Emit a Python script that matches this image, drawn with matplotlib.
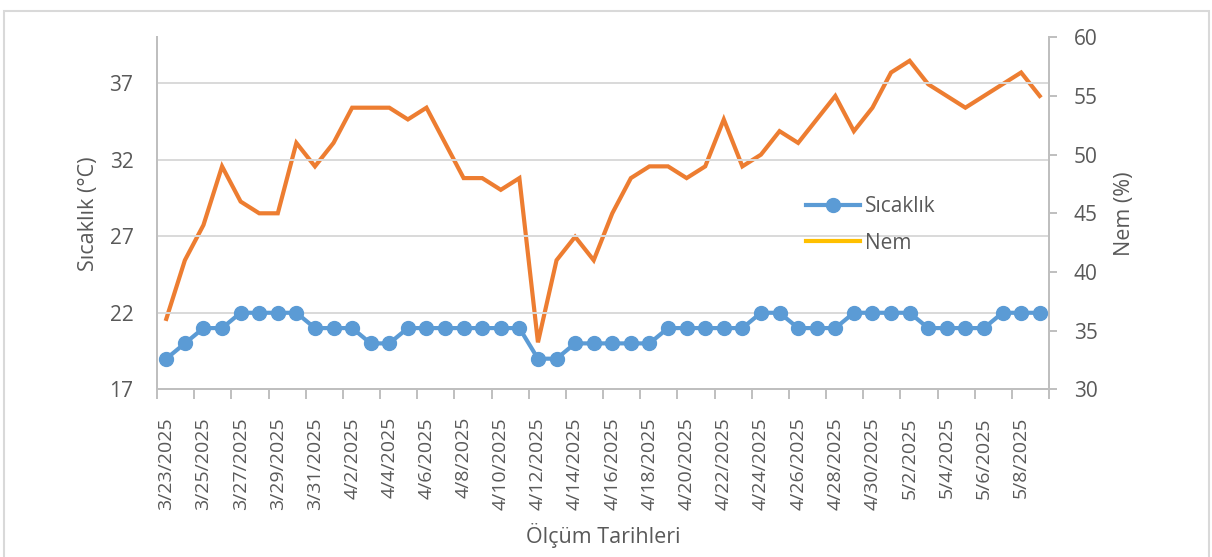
import numpy as np
import pandas as pd
import matplotlib as mpl
mpl.use('Agg')
import matplotlib.pyplot as plt
from matplotlib.lines import Line2D
from matplotlib.patches import Rectangle

# Data
dates = pd.date_range('2025-03-23', '2025-05-09', freq='D')
date_labels = [f"{d.month}/{d.day}/{d.year}" for d in dates]

sicaklik = [19, 20, 21, 21, 22, 22, 22, 22, 21, 21,
            21, 20, 20, 21, 21, 21, 21, 21, 21, 21,
            19, 19, 20, 20, 20, 20, 20, 21, 21, 21,
            21, 21, 22, 22, 21, 21, 21, 22, 22, 22,
            22, 21, 21, 21, 21, 22, 22, 22]
nem = [36, 41, 44, 49, 46, 45, 45, 51, 49, 51,
       54, 54, 54, 53, 54, 51, 48, 48, 47, 48,
       34, 41, 43, 41, 45, 48, 49, 49, 48, 49,
       53, 49, 50, 52, 51, 53, 55, 52, 54, 57,
       58, 56, 55, 54, 55, 56, 57, 55]

left_ticks = [17, 22, 27, 32, 37]
right_ticks = [30, 35, 40, 45, 50, 55, 60]

txt = '#595959'
axis_c = '#BFBFBF'
grid_c = '#D9D9D9'
blue = '#5B9BD5'
orange = '#ED7D31'
gold = '#FFC000'

plt.rcParams['font.family'] = ['Open Sans', 'DejaVu Sans']
plt.rcParams['font.size'] = 15

fig = plt.figure(figsize=(12.12, 5.57), dpi=100, facecolor='w')
fig.patches.append(Rectangle((4 / 1212, -0.02), 1205 / 1212, 1.0, transform=fig.transFigure,
                             fill=False, edgecolor=grid_c, lw=1.5))

ax = fig.add_axes([157 / 1212, 1 - 389.3 / 557, 892 / 1212, 352 / 557])
ax2 = ax.twinx()

x = np.arange(len(dates))

ax2.plot(x, nem, color=orange, lw=3, solid_joinstyle='miter', zorder=3)
ax.plot(x, sicaklik, color=blue, lw=3, marker='o', ms=10, zorder=4)

# primary axis above the twin so the blue series sits on top
ax.set_zorder(ax2.get_zorder() + 1)
ax.patch.set_visible(False)

ax.set_xlim(-0.5, len(dates) - 0.5)
ax.set_ylim(17, 40)
ax.set_yticks(left_ticks)
ax2.set_ylim(30, 60)
ax2.set_yticks(right_ticks)

ax.set_axisbelow(True)
ax.grid(axis='y', color=grid_c, lw=1.4)
ax.grid(axis='x', visible=False)

# category ticks: marks at boundaries, labels at every second center
ax.set_xticks(np.arange(-0.5, len(dates), 2))
ax.set_xticklabels([])
ax.set_xticks(x[::2], minor=True)
ax.set_xticklabels(date_labels[::2], minor=True, rotation=90, va='top', ha='center')
ax.tick_params(axis='x', which='major', length=7, width=1.4, color=axis_c, direction='out')
ax.tick_params(axis='x', which='minor', length=0, pad=20, labelsize=14, labelcolor=txt)

ax.tick_params(axis='y', length=0, pad=17, labelsize=15, labelcolor=txt)
ax2.tick_params(axis='y', length=6, width=1.4, color=axis_c, direction='out', pad=12,
                labelsize=15, labelcolor=txt)

for a in (ax, ax2):
    for s in a.spines.values():
        s.set_color(axis_c)
        s.set_linewidth(1.4)
    a.spines['top'].set_visible(False)

ax.set_ylabel('Sıcaklık (°C)', color=txt, fontsize=15.5, va='center')
ax.yaxis.set_label_coords(-0.077, 0.5)
ax2.set_ylabel('Nem (%)', color=txt, fontsize=15.5, va='center')
ax2.yaxis.set_label_coords(1.085, 0.5)
ax.set_xlabel('Ölçüm Tarihleri', color=txt, fontsize=15.5, va='center')
ax.xaxis.set_label_coords(0.5, -0.415)

handles = [Line2D([], [], color=blue, lw=3, marker='o', ms=10),
           Line2D([], [], color=gold, lw=3)]
fig.legend(handles, ['Sıcaklık', 'Nem'], loc='upper left', bbox_to_anchor=(806 / 1212, 1 - 196 / 557),
           frameon=False, fontsize=15, labelcolor=txt, handlelength=2.6, handletextpad=0.25,
           labelspacing=0.75, borderaxespad=0, borderpad=0)

plt.savefig('out.png', dpi=100)
